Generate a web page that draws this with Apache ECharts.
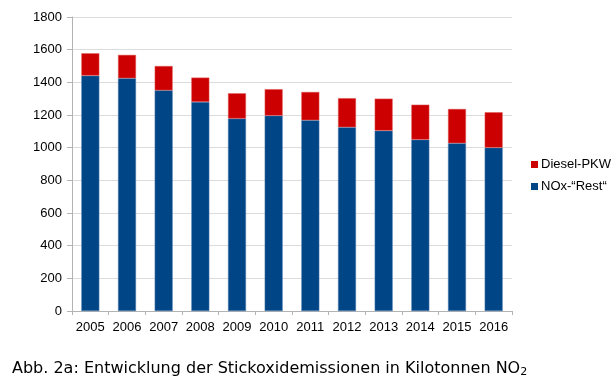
<!DOCTYPE html>
<html><head><meta charset="utf-8">
<script src="https://cdn.jsdelivr.net/npm/echarts@6/dist/echarts.min.js"></script>
<style>html,body{margin:0;padding:0;background:#fff}#c{width:616px;height:391px}</style>
</head><body><div id="c"></div>
<script>
const years = ['2005','2006','2007','2008','2009','2010','2011','2012','2013','2014','2015','2016'];
const noxRest = [1441,1425,1351,1280,1178,1196,1168,1125,1104,1049,1027,1000];
const dieselPkw = [137,143,149,149,155,162,173,178,196,214,210,217];
const yTicks = {min:0, max:1800, interval:200};

const chart = echarts.init(document.getElementById('c'), null, {renderer:'canvas'});
chart.setOption({
  animation:false,
  backgroundColor:'#fff',
  grid:{left:72, right:104, top:17, bottom:80},
  legend:{
    orient:'vertical', left:526, top:153, itemWidth:7, itemHeight:7, itemGap:9,
    icon:'rect',
    itemStyle:{borderWidth:0},
    data:['Diesel-PKW','NOx-“Rest“'],
    textStyle:{fontFamily:'Liberation Sans', fontSize:13, color:'#000', padding:[0,0,0,-2]}
  },
  title:{
    text:'Abb. 2a: Entwicklung der Stickoxidemissionen in Kilotonnen {n|NO}{s|2}',
    left:12, top:360, padding:0,
    textStyle:{fontFamily:'DejaVu Sans', fontSize:16, fontWeight:'normal', color:'#000',
      rich:{n:{fontFamily:'DejaVu Sans', fontSize:16, color:'#000'},
            s:{fontFamily:'DejaVu Sans', fontSize:11, color:'#000', verticalAlign:'bottom', padding:[7,0,0,0]}}}
  },
  xAxis:{
    type:'category', data:years,
    axisLine:{lineStyle:{color:'#b3b3b3'}},
    axisTick:{show:true, alignWithLabel:false, length:4, lineStyle:{color:'#b3b3b3'}},
    axisLabel:{interval:0, fontFamily:'Liberation Sans', fontSize:13, color:'#000', margin:10}
  },
  yAxis:{
    type:'value', min:yTicks.min, max:yTicks.max, interval:yTicks.interval,
    axisLine:{show:true, lineStyle:{color:'#b3b3b3'}},
    axisTick:{show:true, length:5, lineStyle:{color:'#b3b3b3'}},
    splitLine:{lineStyle:{color:'#dcdcdc'}},
    axisLabel:{fontFamily:'Liberation Sans', fontSize:13, color:'#000', margin:10, formatter:v=>String(v)}
  },
  series:[
    {name:'NOx-“Rest“', type:'bar', stack:'a', data:noxRest, barWidth:'49%',
     itemStyle:{color:'#004586', borderColor:'#4f7fb0', borderWidth:0.5}},
    {name:'Diesel-PKW', type:'bar', stack:'a', data:dieselPkw, barWidth:'49%',
     itemStyle:{color:'#cc0000', borderColor:'#e06060', borderWidth:0.5}}
  ]
});
</script></body></html>
